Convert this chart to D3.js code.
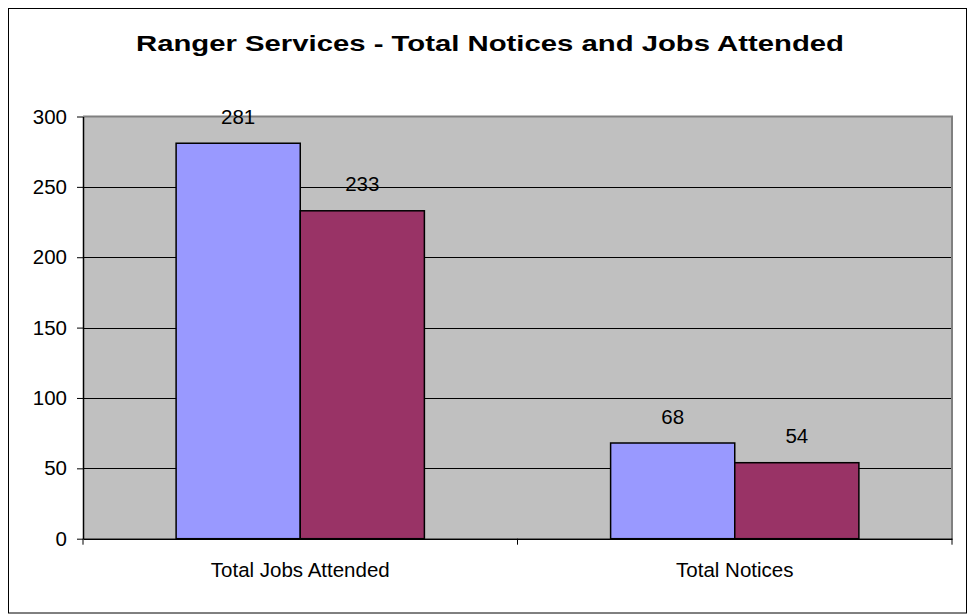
<!DOCTYPE html>
<html>
<head>
<meta charset="utf-8">
<script src="https://cdn.jsdelivr.net/npm/d3@7"></script>
<style>
  html, body { margin: 0; padding: 0; background: #fff; }
  svg { display: block; }
  text { font-family: "Liberation Sans", Arial, sans-serif; fill: #000; }
</style>
</head>
<body>
<svg id="chart" width="970" height="614"></svg>
<script>
// Chart data
const title = "Ranger Services - Total Notices and Jobs Attended";
const categories = ["Total Jobs Attended", "Total Notices"];
const seriesNames = ["Series A", "Series B"];
const seriesA = [281, 68];
const seriesB = [233, 54];
const yTicks = [0, 50, 100, 150, 200, 250, 300];
const seriesColors = ["#9999FF", "#993366"];

const svg = d3.select("#chart");
const W = 970, H = 614;
const plot = { left: 83, right: 952, top: 116.5, bottom: 538.7 };
const labelSize = "20.5px";

// Outer chart frame
svg.append("rect")
  .attr("x", 8.5).attr("y", 8.5)
  .attr("width", W - 12).attr("height", H - 9.5)
  .attr("fill", "#fff").attr("stroke", "#000").attr("stroke-width", 1);

// Title
svg.append("text")
  .attr("x", 490).attr("y", 51)
  .attr("text-anchor", "middle")
  .style("font-size", "22px").style("font-weight", "bold")
  .attr("textLength", 708).attr("lengthAdjust", "spacingAndGlyphs")
  .text(title);

const y = d3.scaleLinear().domain([0, 300]).range([plot.bottom, plot.top]);
const x0 = d3.scaleBand().domain(categories).range([plot.left, plot.right])
  .paddingInner(0).paddingOuter(0);
const x1 = d3.scaleBand().domain(seriesNames).range([0, x0.bandwidth()])
  .paddingInner(0).paddingOuter(0.75);

// Plot background
svg.append("rect")
  .attr("x", plot.left).attr("y", plot.top)
  .attr("width", plot.right - plot.left).attr("height", plot.bottom - plot.top)
  .attr("fill", "#C0C0C0");

// Horizontal gridlines
svg.append("g").selectAll("line")
  .data(yTicks.filter(t => t > 0 && t < 300))
  .join("line")
  .attr("x1", plot.left).attr("x2", plot.right)
  .attr("y1", d => Math.round(y(d)) + 0.5).attr("y2", d => Math.round(y(d)) + 0.5)
  .attr("stroke", "#000").attr("stroke-width", 1);

// Plot border (top and right in grey)
svg.append("path")
  .attr("d", `M${plot.left},${plot.top} H${plot.right} V${plot.bottom}`)
  .attr("fill", "none").attr("stroke", "#808080").attr("stroke-width", 2);

// Bars
const rows = categories.map((c, i) => ({ cat: c, values: [seriesA[i], seriesB[i]] }));
const groups = svg.append("g").selectAll("g")
  .data(rows).join("g")
  .attr("transform", d => `translate(${x0(d.cat)},0)`);

groups.selectAll("rect")
  .data(d => d.values.map((v, j) => ({ name: seriesNames[j], value: v, j })))
  .join("rect")
  .attr("x", d => x1(d.name))
  .attr("y", d => y(d.value))
  .attr("width", x1.bandwidth())
  .attr("height", d => y(0) - y(d.value))
  .attr("fill", d => seriesColors[d.j])
  .attr("stroke", "#000").attr("stroke-width", 1.5);

// Value labels
groups.selectAll("text.val")
  .data(d => d.values.map((v, j) => ({ name: seriesNames[j], value: v })))
  .join("text")
  .attr("class", "val")
  .attr("x", d => x1(d.name) + x1.bandwidth() / 2)
  .attr("y", d => y(d.value) - 19.5)
  .attr("text-anchor", "middle")
  .style("font-size", labelSize)
  .text(d => d.value);

// Y axis
const yAxis = svg.append("g")
  .attr("transform", `translate(${plot.left},0)`)
  .call(d3.axisLeft(y).tickValues(yTicks).tickSize(6).tickPadding(10).tickSizeOuter(0));
yAxis.select(".domain").attr("stroke", "#000").attr("stroke-width", 1.5);
yAxis.selectAll(".tick line").attr("stroke", "#000");
yAxis.selectAll(".tick text")
  .style("font-family", "'Liberation Sans', Arial, sans-serif")
  .style("font-size", labelSize).attr("fill", "#000");

// X axis
const xAxis = svg.append("g")
  .attr("transform", `translate(0,${plot.bottom})`)
  .call(d3.axisBottom(x0).tickSize(0).tickPadding(0).tickSizeOuter(0));
xAxis.select(".domain").attr("stroke", "#000").attr("stroke-width", 1.5);
xAxis.selectAll(".tick text")
  .style("font-family", "'Liberation Sans', Arial, sans-serif")
  .style("font-size", labelSize).attr("fill", "#000")
  .attr("dy", 0).attr("y", 38.5);

// Category separator ticks on the x axis
svg.append("g").selectAll("line")
  .data([...categories.map(c => x0(c)), plot.right])
  .join("line")
  .attr("x1", d => d).attr("x2", d => d)
  .attr("y1", plot.bottom).attr("y2", plot.bottom + 6)
  .attr("stroke", "#000").attr("stroke-width", 1);
</script>
</body>
</html>
